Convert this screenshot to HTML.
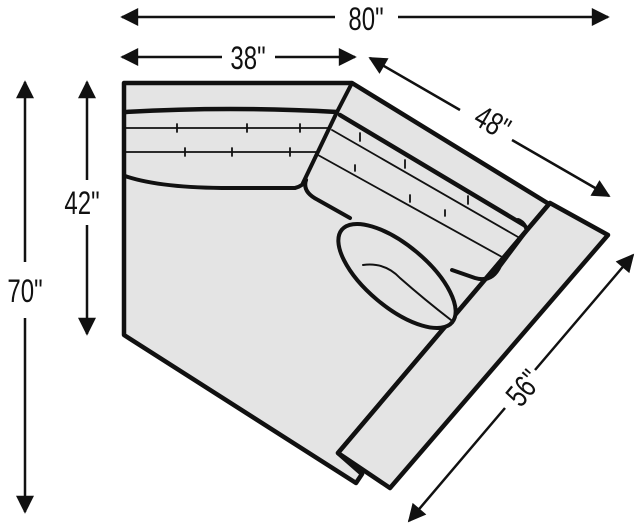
<!DOCTYPE html>
<html><head><style>body{margin:0;background:#fff}svg{display:block}text{font-family:"Liberation Sans Narrow","Liberation Sans",sans-serif;font-size:32px;fill:#111}</style></head>
<body>
<svg width="642" height="531" viewBox="0 0 642 531">
<defs>
<marker id="b" viewBox="0 0 10 10" refX="9" refY="5" markerWidth="24" markerHeight="18" orient="auto-start-reverse" markerUnits="userSpaceOnUse"><path d="M0,0L10,5L0,10z" fill="#111"/></marker></defs>
<g stroke="#111" stroke-width="2.5" marker-start="url(#b)" marker-end="url(#b)" fill="none">
<line x1="122" y1="17" x2="335" y2="17" marker-end="none"/><line x1="398" y1="17" x2="608" y2="17" marker-start="none"/>
<line x1="122" y1="57" x2="222" y2="57" marker-end="none"/><line x1="275" y1="57" x2="355" y2="57" marker-start="none"/>
<line x1="370" y1="58" x2="460" y2="110" marker-end="none"/><line x1="512" y1="140" x2="609" y2="196" marker-start="none"/>
<line x1="633" y1="255" x2="535" y2="370" marker-end="none"/><line x1="505" y1="408" x2="409" y2="521" marker-start="none"/>
<line x1="25" y1="82" x2="25" y2="262" marker-end="none"/><line x1="25" y1="318" x2="25" y2="512" marker-start="none"/>
<line x1="87" y1="82" x2="87" y2="180" marker-end="none"/><line x1="87" y1="225" x2="87" y2="334" marker-start="none"/>
</g>
<g text-anchor="middle">
<text transform="translate(366 30) scale(0.75 1)">80"</text>
<text transform="translate(248 69) scale(0.75 1)">38"</text>
<text transform="translate(487 132) rotate(30) scale(0.75 1)">48"</text>
<text transform="translate(532 395) rotate(-50) scale(0.75 1)">56"</text>
<text transform="translate(25 302) scale(0.75 1)">70"</text>
<text transform="translate(82 214) scale(0.75 1)">42"</text>
</g>
<g stroke="#111" fill="#e4e4e4" stroke-linejoin="round" stroke-linecap="round">
<path d="M124,83 L352,83 L549,204 L338,453 L362,474 L356,483 L124,335 Z" stroke-width="4.5"/>
<path d="M550,203 L608,235 L390,488 L338,453 Z" stroke-width="4.5"/>
<path d="M352,83 L337,112 L303,183" fill="none" stroke-width="4"/>
<path d="M125,112 Q230,106 337,112" fill="none" stroke-width="4.5"/>
<path d="M340,115 L524,225" fill="none" stroke-width="4.5"/>
<path d="M125,176 Q160,188 230,188 L295,188 Q303,186 306,180" fill="none" stroke-width="4"/>
<path d="M306,180 Q302,192 318,200 L350,218 M452,270 L475,278 Q492,283 500,266 L527,230 Q524,222 518,220" fill="none" stroke-width="4"/>
<g stroke-width="1.8" fill="none"><line x1="125" y1="128" x2="330" y2="128"/><line x1="125" y1="152" x2="318" y2="152"/>
<line x1="332" y1="130" x2="518" y2="237"/><line x1="318" y1="155" x2="502" y2="257"/>
<path d="M177,124v8M247,124v8M300,124v8M185,148v8M232,148v8M290,148v8M360,133v8M405,160v8M468,196v8M355,165v6M410,195v7M445,210v6"/></g>
<ellipse cx="397" cy="276" rx="72" ry="31" transform="rotate(40 397 276)" stroke-width="4"/>
<path d="M363,265 Q385,262 400,278 Q425,300 451,320" fill="none" stroke-width="2"/>
</g>
</svg>
</body></html>
